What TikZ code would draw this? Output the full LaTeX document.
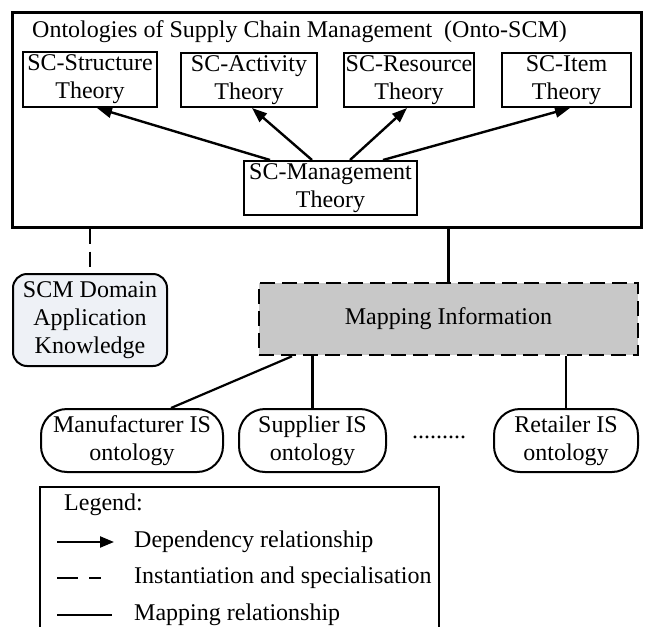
\documentclass[tikz,border=0pt]{standalone}
\usepackage{fontspec}
\setmainfont{Liberation Serif}
\usetikzlibrary{arrows.meta}
\definecolor{domainfill}{HTML}{EEF1F6}
\definecolor{mapfill}{HTML}{C8C8C8}
\begin{document}
\begin{tikzpicture}[x=1pt,y=-1pt,
  txt/.style={font=\fontsize{24}{28}\selectfont, align=center, inner sep=0pt},
  theory/.style={txt, draw, line width=2pt},
  outerbox/.style={draw, line width=3pt, inner sep=0pt},
  domainbox/.style={txt, draw, line width=2pt, rounded corners=14pt, fill=domainfill},
  mapbox/.style={txt, draw, line width=2.6pt, dash pattern=on 15pt off 7pt, fill=mapfill},
  isbox/.style={txt, draw, line width=2pt, rounded corners=26pt},
  dep/.style={line width=2.4pt, -{Triangle[length=15pt,width=11pt]}},
  inst/.style={line width=2.6pt, dash pattern=on 15pt off 8pt},
  mapl/.style={line width=2.2pt},
  legendbox/.style={draw, line width=2pt, inner sep=0pt}]
\path[use as bounding box] (0,0) rectangle (649,627);
\clip (0,0) rectangle (649,627);

% Onto-SCM frame and its theories
\node[outerbox, minimum width=629pt, minimum height=215pt] (onto) at (326.5,119.5) {};
\node[txt, anchor=base west] (title) at (32,37) {Ontologies of Supply Chain Management\ \ (Onto-SCM)};
\node[theory, minimum width=134pt, minimum height=55pt] (struct) at (90,79.5) {SC-Structure\\Theory};
\node[theory, minimum width=136pt, minimum height=54pt] (activity) at (249,80) {SC-Activity\\Theory};
\node[theory, minimum width=130pt, minimum height=54pt] (resource) at (409,80) {SC-Resource\\Theory};
\node[theory, minimum width=129pt, minimum height=54pt] (item) at (566.5,80) {SC-Item\\Theory};
\node[theory, minimum width=173pt, minimum height=54pt] (mgmt) at (330.5,188) {SC-Management\\Theory};

\draw[dep] ([xshift=-60.5pt]mgmt.north) -- ([xshift=7pt]struct.south);
\draw[dep] ([xshift=-18.5pt]mgmt.north) -- ([xshift=3pt]activity.south);
\draw[dep] ([xshift=19.5pt]mgmt.north) -- ([xshift=-2pt]resource.south);
\draw[dep] ([xshift=52.5pt]mgmt.north) -- ([xshift=3.5pt]item.south);

% Domain knowledge and mapping information
\node[domainbox, minimum width=154pt, minimum height=92pt] (domain) at (90,320) {SCM Domain\\Application\\Knowledge};
\node[mapbox, minimum width=379pt, minimum height=72pt] (mapping) at (448.5,319) {Mapping Information};

\draw[inst] (domain.north |- onto.south) -- (domain.north);
\draw[mapl] (mapping.north |- onto.south) -- (mapping.north);

% Local IS ontologies
\node[isbox, minimum width=182pt, minimum height=63pt] (manu) at (132,440.5) {Manufacturer IS\\ontology};
\node[isbox, minimum width=147pt, minimum height=63pt] (supp) at (312.5,440.5) {Supplier IS\\ontology};
\node[txt] (dots) at (439,437) {.........};
\node[isbox, minimum width=144pt, minimum height=63pt] (ret) at (566,440.5) {Retailer IS\\ontology};

\draw[mapl] ([xshift=-156.5pt]mapping.south) -- ([xshift=39pt]manu.north);
\draw[mapl] (supp.north |- mapping.south) -- (supp.north);
\draw[mapl] (ret.north |- mapping.south) -- (ret.north);

% Legend
\node[legendbox, minimum width=399pt, minimum height=180pt] (legend) at (239.5,577) {};
\node[txt, anchor=west] (legtitle) at (64,505) {Legend:};
\coordinate (la1) at (57,542); \coordinate (la2) at (114,542);
\coordinate (lb1) at (57,578); \coordinate (lb2) at (101,578);
\coordinate (lc1) at (57,615); \coordinate (lc2) at (112,615);
\draw[line width=2.2pt, -{Triangle[length=14pt,width=11pt]}] (la1) -- (la2);
\draw[line width=2.6pt, dash pattern=on 21pt off 11pt] (lb1) -- (lb2);
\draw[mapl] (lc1) -- (lc2);
\node[txt, anchor=west] (legdep) at (134,542) {Dependency relationship};
\node[txt, anchor=west] (leginst) at (134,578) {Instantiation and specialisation};
\node[txt, anchor=west] (legmap) at (134,615) {Mapping relationship};
\end{tikzpicture}
\end{document}
